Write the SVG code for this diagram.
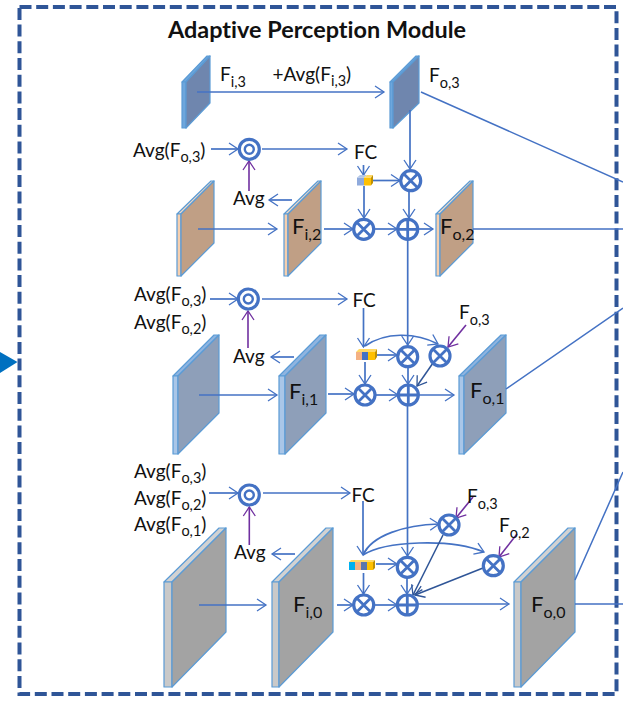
<svg xmlns="http://www.w3.org/2000/svg" width="623" height="708" viewBox="0 0 623 708">
<style>
text{font-family:Lato,"Noto Sans","Liberation Sans",sans-serif;fill:#111;font-variant-ligatures:none}
.t{font-size:19px}
.b{font-size:22px}
.s{font-size:14.500px}
.bs{font-size:16px}
.title{font-size:22.5px;font-weight:700}
.ln{fill:none;stroke:#4472c4;stroke-width:1.7}
.lt{fill:none;stroke:#4472c4;stroke-width:1.5}
.dk{fill:none;stroke:#2f5597;stroke-width:1.5}
.pu{fill:none;stroke:#7030a0;stroke-width:1.6}
.pd{stroke:#5b9bd5;stroke-width:1.2;stroke-linejoin:round}
.op{fill:#fff;stroke:#4472c4;stroke-width:3.2}
.rim{fill:none;stroke:#4472c4;stroke-width:2.8}
.n3 .f{fill:#6f86ae}.n3 .e{fill:#6ea6dc}.n3 .u{fill:#6ea6dc}
.n2 .f{fill:#c09f85}.n2 .e{fill:#f6cfae}.n2 .u{fill:#f0d8c4}
.n1 .f{fill:#8e9fb9}.n1 .e{fill:#a9c6e8}.n1 .u{fill:#8fb4e0}
.n0 .f{fill:#a3a3a3}.n0 .e{fill:#c9c9c9}.n0 .u{fill:#d2d2d2}
</style>
<defs>
<marker id="arr" markerUnits="userSpaceOnUse" markerWidth="14" markerHeight="16" refX="10" refY="7" orient="auto" overflow="visible">
<path d="M1 1L10 7L1 13" fill="none" stroke="#4472c4" stroke-width="1.3"/>
</marker>
<marker id="arrd" markerUnits="userSpaceOnUse" markerWidth="14" markerHeight="16" refX="10" refY="7" orient="auto" overflow="visible">
<path d="M1 1L10 7L1 13" fill="none" stroke="#2f5597" stroke-width="1.3"/>
</marker>
<marker id="arrp" markerUnits="userSpaceOnUse" markerWidth="14" markerHeight="16" refX="10" refY="7" orient="auto" overflow="visible">
<path d="M1 1L10 7L1 13" fill="none" stroke="#7030a0" stroke-width="1.3"/>
</marker>
<g id="mul"><circle r="10" class="op"/><path d="M-6.5-6.5L6.5 6.5M6.5-6.5L-6.5 6.5" class="rim"/></g>
<g id="add"><circle r="10" class="op"/><path d="M-10 0H10M0-10V10" class="rim"/></g>
<g id="pool"><circle r="10" class="op"/><circle r="4.5" fill="none" stroke="#4472c4" stroke-width="2.4"/></g>
</defs>
<rect width="623" height="708" fill="#fff"/>
<path d="M0 352L17.500 362L0 373Z" fill="#0070c0"/>
<rect x="19.500" y="7" width="597" height="687" fill="none" stroke="#2f5597" stroke-width="4" stroke-dasharray="12 4.700"/>
<text x="168" y="38" class="title" textLength="298" lengthAdjust="spacingAndGlyphs">Adaptive Perception Module</text>

<!-- feature slabs: top bevel, side edge, front face -->
<g id="fi3-slab" class="n3"><path class="pd u" d="M182 82L207 56H210L186 82Z"/><path class="pd e" d="M182 82H186V128H182Z"/><path class="pd f" d="M186 82L210 56V103L186 128Z"/></g>
<g id="fo3-slab" class="n3"><path class="pd u" d="M390 82L416 56H419L393 82Z"/><path class="pd e" d="M390 82H393V128H390Z"/><path class="pd f" d="M393 82L419 56V103L393 128Z"/></g>
<g id="in2-slab" class="n2"><path class="pd u" d="M177 214L211 181H214L181 214Z"/><path class="pd e" d="M177 214H181V276H177Z"/><path class="pd f" d="M181 214L214 181V243L181 276Z"/></g>
<g id="fi2-slab" class="n2"><path class="pd u" d="M284 214L318 181H321L288 214Z"/><path class="pd e" d="M284 214H288V276H284Z"/><path class="pd f" d="M288 214L321 181V243L288 276Z"/></g>
<g id="fo2-slab" class="n2"><path class="pd u" d="M436 214L470 181H473L440 214Z"/><path class="pd e" d="M436 214H440V276H436Z"/><path class="pd f" d="M440 214L473 181V243L440 276Z"/></g>
<g id="in1-slab" class="n1"><path class="pd u" d="M173 376L214 335H219L178 376Z"/><path class="pd e" d="M173 376H178V454H173Z"/><path class="pd f" d="M178 376L219 335V413L178 454Z"/></g>
<g id="fi1-slab" class="n1"><path class="pd u" d="M279 376L320 335H326L285 376Z"/><path class="pd e" d="M279 376H285V454H279Z"/><path class="pd f" d="M285 376L326 335V413L285 454Z"/></g>
<g id="fo1-slab" class="n1"><path class="pd u" d="M459 376L501 335H506L464 376Z"/><path class="pd e" d="M459 376H464V454H459Z"/><path class="pd f" d="M464 376L506 335V413L464 454Z"/></g>
<g id="in0-slab" class="n0"><path class="pd u" d="M164 582L219 528H226L172 582Z"/><path class="pd e" d="M164 582H172V687H164Z"/><path class="pd f" d="M172 582L226 528V632L172 687Z"/></g>
<g id="fi0-slab" class="n0"><path class="pd u" d="M272 582L326 528H333L279 582Z"/><path class="pd e" d="M272 582H279V687H272Z"/><path class="pd f" d="M279 582L333 528V632L279 687Z"/></g>
<g id="fo0-slab" class="n0"><path class="pd u" d="M514 582L568 528H575L521 582Z"/><path class="pd e" d="M514 582H521V687H514Z"/><path class="pd f" d="M521 582L575 528V632L521 687Z"/></g>

<g id="connectors">
<!-- outputs leaving the module -->
<path class="lt" d="M421 92L623 182M473 229H623M506 389L623 308M575 604H623M575 580L623 472"/>
<!-- level 3 -->
<path class="ln" marker-end="url(#arr)" d="M197 92H384"/>
<path class="ln" marker-end="url(#arr)" d="M410 110V169"/>
<path class="ln" marker-end="url(#arr)" d="M211 149H238"/>
<path class="ln" marker-end="url(#arr)" d="M262 149H347"/>
<path class="pu" marker-end="url(#arrp)" d="M249 191V161"/>
<path class="ln" marker-end="url(#arr)" d="M292 200H269"/>
<path class="ln" marker-end="url(#arr)" d="M198 229H277"/>
<path class="ln" marker-end="url(#arr)" d="M324 229H353"/>
<path class="ln" marker-end="url(#arr)" d="M363.500 165V175"/>
<path class="ln" marker-end="url(#arr)" d="M372 180.500H400"/>
<path class="ln" marker-end="url(#arr)" d="M364 186V218"/>
<path class="ln" marker-end="url(#arr)" d="M374 229H397"/>
<path class="ln" marker-end="url(#arr)" d="M409 191V218"/>
<path class="ln" marker-end="url(#arr)" d="M418 229H433"/>
<!-- level 2 -->
<path class="ln" marker-end="url(#arr)" d="M407.700 240V345"/>
<path class="ln" marker-end="url(#arr)" d="M210 299H238"/>
<path class="ln" marker-end="url(#arr)" d="M262 299H347"/>
<path class="pu" marker-end="url(#arrp)" d="M248 348V311"/>
<path class="ln" marker-end="url(#arr)" d="M294 357H271"/>
<path class="ln" marker-end="url(#arr)" d="M199 395H277"/>
<path class="ln" marker-end="url(#arr)" d="M328 394H354"/>
<path class="ln" marker-end="url(#arr)" d="M363.500 308V347"/>
<path class="ln" marker-end="url(#arr)" d="M377 355H397"/>
<path class="ln" marker-end="url(#arr)" d="M365 362V384"/>
<path class="ln" marker-end="url(#arr)" d="M376 395H398"/>
<path class="ln" marker-end="url(#arr)" d="M408 368V384"/>
<path class="ln" marker-end="url(#arr)" d="M419 395H454"/>
<path class="ln" marker-end="url(#arr)" d="M365 346C385 332 415 332 438 344"/>
<path class="pu" marker-end="url(#arrp)" d="M466 325L448 347"/>
<path class="dk" marker-end="url(#arrd)" d="M433 363L417 386"/>
<!-- level 1 -->
<path class="ln" marker-end="url(#arr)" d="M407.500 406V556"/>
<path class="ln" marker-end="url(#arr)" d="M209 493H238"/>
<path class="ln" marker-end="url(#arr)" d="M263 493H350"/>
<path class="pu" marker-end="url(#arrp)" d="M249.300 545V507"/>
<path class="ln" marker-end="url(#arr)" d="M295 554H272"/>
<path class="ln" marker-end="url(#arr)" d="M199 605H266"/>
<path class="ln" marker-end="url(#arr)" d="M337 605H353"/>
<path class="ln" marker-end="url(#arr)" d="M363 501V555"/>
<path class="ln" marker-end="url(#arr)" d="M376 564H397"/>
<path class="ln" marker-end="url(#arr)" d="M363.500 573V594"/>
<path class="ln" marker-end="url(#arr)" d="M374 605H397"/>
<path class="ln" marker-end="url(#arr)" d="M407 578V594"/>
<path class="ln" marker-end="url(#arr)" d="M418 604H509"/>
<path class="ln" marker-end="url(#arr)" d="M363 555C372 535 405 525 439 524"/>
<path class="ln" marker-end="url(#arr)" d="M363 555C385 541 450 538 484 552"/>
<path class="pu" marker-end="url(#arrp)" d="M473 497L456 518"/>
<path class="pu" marker-end="url(#arrp)" d="M517 534L499 557"/>
<path class="dk" marker-end="url(#arrd)" d="M443 535L413 595"/>
<path class="dk" marker-end="url(#arrd)" d="M483 568L415 595"/>
</g>

<!-- pooling, product and sum operators -->
<use id="pool3" href="#pool" x="249.300" y="149.300"/>
<use id="pool2" href="#pool" x="248.300" y="299"/>
<use id="pool1" href="#pool" x="249.300" y="495"/>
<use id="mul3a" href="#mul" x="410.700" y="180.700"/>
<use id="mul3b" href="#mul" x="363.700" y="229.300"/>
<use id="add3" href="#add" x="407.700" y="229.300"/>
<use id="mul2a" href="#mul" x="407.700" y="356.700"/>
<use id="mul2b" href="#mul" x="440" y="356"/>
<use id="mul2c" href="#mul" x="365" y="395"/>
<use id="add2" href="#add" x="408.300" y="395"/>
<use id="mul1a" href="#mul" x="449" y="525"/>
<use id="mul1b" href="#mul" x="493.300" y="565.700"/>
<use id="mul1c" href="#mul" x="407.300" y="567.300"/>
<use id="mul1d" href="#mul" x="363.700" y="605"/>
<use id="add1" href="#add" x="407.300" y="605"/>

<!-- channel weight blocks -->
<g id="weights3"><rect x="357" y="177.500" width="7" height="8" fill="#8faadc"/><path d="M357 177.500L360 175H367L364 177.500Z" fill="#b4c7e7"/><rect x="364" y="177.500" width="7" height="8" fill="#ffc000"/><path d="M364 177.500L367 175H373L371 177.500Z" fill="#ffd966"/><path d="M371 177.500L373 175V183L371 185.500Z" fill="#bf9000"/></g>
<g id="weights2"><rect x="356" y="352" width="6" height="8" fill="#f4b183"/><rect x="362" y="352" width="6" height="8" fill="#4472c4"/><rect x="368" y="352" width="7" height="8" fill="#ffc000"/><path d="M356 352L359 349H377L375 352Z" fill="#ffd966"/><path d="M375 352L377 349V357L375 360Z" fill="#bf9000"/></g>
<g id="weights1"><rect x="349" y="562" width="6" height="8" fill="#00b0f0"/><rect x="355" y="562" width="6" height="8" fill="#f4b183"/><rect x="361" y="562" width="6" height="8" fill="#5b76ad"/><rect x="367" y="562" width="6" height="8" fill="#ffc000"/><path d="M349 562L351 560H375L373 562Z" fill="#ffd966"/><path d="M373 562L375 560V568L373 570Z" fill="#bf9000"/></g>

<!-- labels -->
<g id="labels">
<text x="220" y="81" class="t">F<tspan class="s" dy="6">i,3</tspan></text>
<text x="272.500" y="81" class="t">+Avg(F<tspan class="s" dy="5">i,3</tspan><tspan dy="-5">)</tspan></text>
<text x="429" y="82" class="t">F<tspan class="s" dy="6">o,3</tspan></text>
<text x="133" y="157" class="t">Avg(F<tspan class="s" dy="5">o,3</tspan><tspan dy="-5">)</tspan></text>
<text x="354" y="159" class="t">FC</text>
<text x="233" y="205" class="t">Avg</text>
<text x="292" y="234" class="b">F<tspan class="bs" dy="6">i,2</tspan></text>
<text x="440" y="234" class="b">F<tspan class="bs" dy="6">o,2</tspan></text>
<text x="134" y="301" class="t">Avg(F<tspan class="s" dy="5">o,3</tspan><tspan dy="-5">)</tspan></text>
<text x="134" y="329" class="t">Avg(F<tspan class="s" dy="5">o,2</tspan><tspan dy="-5">)</tspan></text>
<text x="352.500" y="307" class="t">FC</text>
<text x="233" y="363" class="t">Avg</text>
<text x="459" y="319" class="t">F<tspan class="s" dy="6">o,3</tspan></text>
<text x="289" y="399" class="b">F<tspan class="bs" dy="6">i,1</tspan></text>
<text x="470" y="398" class="b">F<tspan class="bs" dy="6">o,1</tspan></text>
<text x="134" y="478" class="t">Avg(F<tspan class="s" dy="5">o,3</tspan><tspan dy="-5">)</tspan></text>
<text x="134" y="505" class="t">Avg(F<tspan class="s" dy="5">o,2</tspan><tspan dy="-5">)</tspan></text>
<text x="134" y="531" class="t">Avg(F<tspan class="s" dy="5">o,1</tspan><tspan dy="-5">)</tspan></text>
<text x="351.500" y="502" class="t">FC</text>
<text x="234" y="559" class="t">Avg</text>
<text x="467" y="503" class="t">F<tspan class="s" dy="6">o,3</tspan></text>
<text x="499" y="532" class="t">F<tspan class="s" dy="6">o,2</tspan></text>
<text x="293" y="612" class="b">F<tspan class="bs" dy="6">i,0</tspan></text>
<text x="531" y="612" class="b">F<tspan class="bs" dy="6">o,0</tspan></text>
</g>
</svg>
